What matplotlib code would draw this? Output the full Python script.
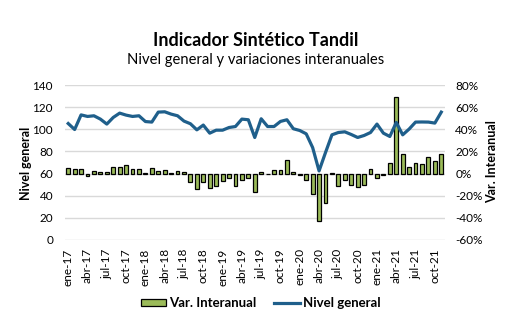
import matplotlib
matplotlib.use("Agg")
import matplotlib.pyplot as plt
from matplotlib.patches import Patch
from matplotlib.lines import Line2D
from matplotlib.ticker import FuncFormatter

plt.rcParams['font.family'] = ['Lato', 'DejaVu Sans']

months = ['ene', 'feb', 'mar', 'abr', 'may', 'jun', 'jul', 'ago', 'sep', 'oct', 'nov', 'dic']
years = ['17', '18', '19', '20', '21']
labels = [f"{m}-{y}" for y in years for m in months][:59]

nivel = [105.2, 99.8, 113.0, 111.6, 112.2, 109.2, 104.7, 110.7, 114.6, 112.8, 111.6, 112.2,
         107.0, 106.5, 115.5, 115.8, 113.7, 112.2, 107.4, 105.0, 99.5, 103.8, 96.5, 99.2,
         99.2, 101.6, 102.5, 109.2, 108.6, 92.6, 109.5, 102.5, 102.5, 107.1, 108.6, 100.5,
         98.9, 95.9, 83.5, 62.4, 79.0, 95.0, 97.1, 97.7, 95.3, 92.6, 94.4, 97.1,
         104.7, 96.5, 93.5, 106.2, 95.0, 100.2, 106.5, 106.6, 106.5, 105.6, 115.5]

var_ia = [5.2, 4.0, 4.0, -2.4, 2.4, 1.5, 1.5, 6.0, 6.0, 8.0, 4.0, 4.0,
          0.5, 5.0, 2.4, 3.3, 0.5, 2.4, 1.5, -7.3, -14.0, -7.6, -13.0, -11.0,
          -6.4, -3.6, -11.0, -5.5, -4.0, -16.6, 1.5, -0.5, 3.3, 3.3, 12.7, 1.5,
          -1.0, -5.8, -18.5, -43.0, -26.4, 0.3, -11.0, -5.8, -10.6, -12.0, -10.3, 4.2,
          -4.0, -1.0, 9.7, 68.8, 17.9, 6.0, 9.7, 8.8, 15.2, 11.5, 17.9]

fig = plt.figure(figsize=(5.11, 3.26), dpi=100)
ax = fig.add_axes([65/511, 1 - 240/326, (444.5 - 65)/511, (240 - 85)/326])
ax2 = ax.twinx()

x = list(range(len(labels)))
bar_color = '#9BBB59'
line_color = '#1F5F8B'

ax2.bar(x, var_ia, width=0.6, color=bar_color, edgecolor='black', linewidth=0.9, zorder=3)
ax.plot(x, nivel, color=line_color, linewidth=2.3, solid_joinstyle='round', zorder=4)

ax.set_zorder(ax2.get_zorder() + 1)
ax.patch.set_visible(False)

ax.set_xlim(-0.5, len(labels) - 0.5)
ax.set_ylim(0, 140)
ax.set_yticks(range(0, 141, 20))
ax2.set_ylim(-60, 80)
ax2.set_yticks(range(-60, 81, 20))
ax2.yaxis.set_major_formatter(FuncFormatter(lambda v, p: f"{int(v)}%"))
ax2.grid(axis='y', color='#D9D9D9', linewidth=1.0, zorder=0)
ax2.set_axisbelow(True)

ax.set_xticks(x[::3])
ax.set_xticklabels(labels[::3], rotation=90, fontsize=8.5)
for a in (ax, ax2):
    for s in a.spines.values():
        s.set_visible(False)
    a.tick_params(length=0, labelsize=8.5, colors='black')
ax.tick_params(axis='y', pad=8.6)
ax2.tick_params(axis='y', pad=7.8)
ax.tick_params(axis='x', pad=6)

fig.text(26/511, 1 - 163/326, 'Nivel general', rotation=90, ha='center', va='center',
         fontsize=9, fontweight='bold')
fig.text(492/511, 1 - 162/326, 'Var. Interanual', rotation=90, ha='center', va='center',
         fontsize=9, fontweight='bold')

fig.text(0.5, 1 - 40/326, 'Indicador Sintético Tandil', ha='center', va='center',
         fontsize=13, fontweight='bold')
fig.text(0.5, 1 - 60/326, 'Nivel general y variaciones interanuales', ha='center', va='center',
         fontsize=10.6)

handles = [Patch(facecolor=bar_color, edgecolor='black', linewidth=0.9),
           Line2D([0], [0], color=line_color, linewidth=2.3)]
fig.legend(handles, ['Var. Interanual', 'Nivel general'], loc='center',
           bbox_to_anchor=(0.51, 1 - 303/326), ncol=2, frameon=False,
           prop={'size': 9.5, 'weight': 'bold'},
           handlelength=1.97, handleheight=0.45, columnspacing=1.37, handletextpad=0.2)

fig.savefig('out.png', dpi=100)
